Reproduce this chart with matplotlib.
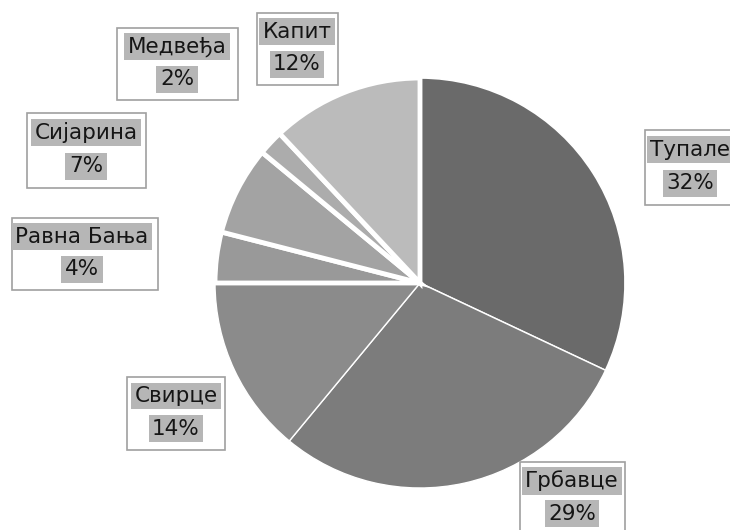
import matplotlib
matplotlib.use("Agg")
import matplotlib.pyplot as plt
from matplotlib.patches import Rectangle

categories = ["Тупале", "Грбавце", "Свирце", "Равна Бања", "Сијарина", "Медвеђа", "Капит"]
values = [32, 29, 14, 4, 7, 2, 12]
colors = ["#6a6a6a", "#7c7c7c", "#8b8b8b", "#999999", "#a3a3a3", "#acacac", "#bbbbbb"]
edge_widths = [1.2, 1.0, 1.0, 3.5, 3.5, 3.5, 3.5]

W, H = 730, 530
fig = plt.figure(figsize=(W / 100, H / 100), dpi=100)
fig.patch.set_facecolor("white")

cx, cy, R = 420, 283, 205
ax = fig.add_axes([(cx - R) / W, (H - cy - R) / H, 2 * R / W, 2 * R / H])
wedges, _ = ax.pie(values, colors=colors, startangle=90, counterclock=False, radius=1,
                   wedgeprops=dict(edgecolor="white", linewidth=1))
for w, lw in zip(wedges, edge_widths):
    w.set_linewidth(lw)
# draw thin-edged big wedges below small ones so thick gaps show
for w, lw in zip(wedges, edge_widths):
    w.set_zorder(2 if lw > 2 else 1)
ax.set_xlim(-1, 1)
ax.set_ylim(-1, 1)
ax.set_aspect("auto")
ax.axis("off")

# label boxes: (left, top, right, bottom) in pixels, text center x
boxes = {
    "Тупале": (645, 130, 735, 205, 690),
    "Грбавце": (520, 462, 625, 535, 572),
    "Свирце": (127, 377, 225, 450, 176),
    "Равна Бања": (12, 218, 158, 290, 82),
    "Сијарина": (27, 113, 146, 188, 86),
    "Медвеђа": (117, 28, 238, 100, 177),
    "Капит": (257, 13, 338, 85, 297),
}

for cat, val in zip(categories, values):
    l, t, r, b, tx = boxes[cat]
    fig.patches.append(Rectangle((l / W, 1 - b / H), (r - l) / W, (b - t) / H,
                                 transform=fig.transFigure, facecolor="white",
                                 edgecolor="#a0a0a0", linewidth=1.2, zorder=5))
    y1 = t + 0.26 * (b - t)
    y2 = t + 0.71 * (b - t)
    for txt, yy in ((cat, y1), (f"{val}%", y2)):
        fig.text(tx / W, 1 - yy / H, txt, ha="center", va="center", fontsize=15.5,
                 family="DejaVu Sans", color="#151515", zorder=6,
                 bbox=dict(facecolor="#b6b6b6", edgecolor="none", pad=2.5))

fig.savefig("out.png", dpi=100, facecolor="white")
